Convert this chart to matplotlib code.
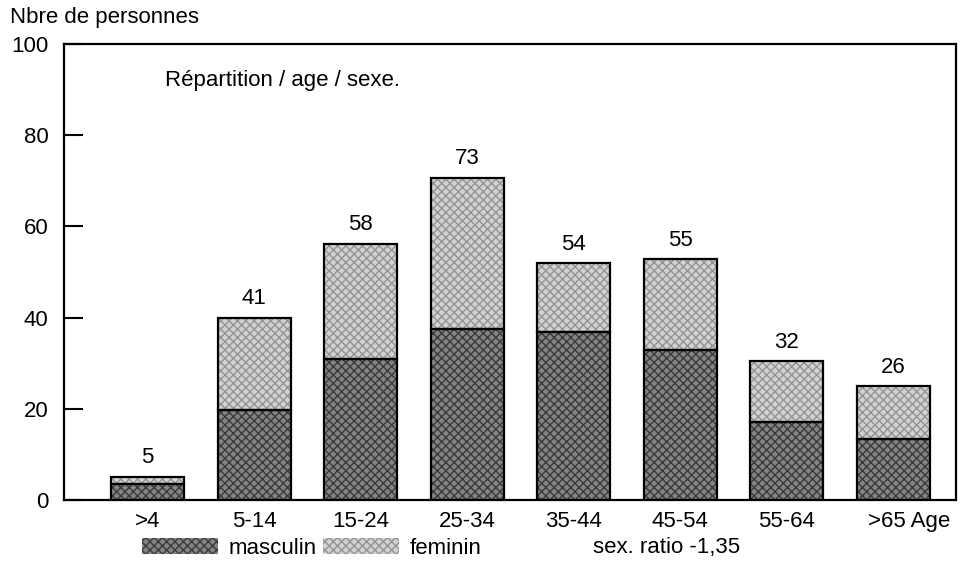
import matplotlib.pyplot as plt
import numpy as np
from matplotlib.patches import Rectangle
from matplotlib.transforms import ScaledTranslation

# age groups and counts (bar heights as drawn, labels as printed)
age_groups = ['>4', '5-14', '15-24', '25-34', '35-44', '45-54', '55-64', '>65 Age']
masculin = [3.5, 19.8, 31.0, 37.6, 36.8, 32.8, 17.2, 13.4]
total = [5.1, 40.0, 56.2, 70.7, 52.0, 52.8, 30.4, 24.9]
total_labels = ['5', '41', '58', '73', '54', '55', '32', '26']
feminin = [t - m for t, m in zip(total, masculin)]

plt.rcParams['font.family'] = ['Liberation Sans', 'DejaVu Sans']
plt.rcParams['font.size'] = 16
plt.rcParams['hatch.linewidth'] = 1.0

fig = plt.figure(figsize=(9.64, 5.62), dpi=100)
ax = fig.add_axes([0.0664, 0.1103, 0.9253, 0.8114])

x = np.arange(len(age_groups))
w = 0.685
masc_style = dict(facecolor='#848484', hatch='xxxx', edgecolor='#3a3a3a', linewidth=0)
fem_style = dict(facecolor='#d2d2d2', hatch='xxxx', edgecolor='#949494', linewidth=0)

ax.bar(x, masculin, w, **masc_style)
ax.bar(x, feminin, w, bottom=masculin, **fem_style)
# outlines
ax.bar(x, masculin, w, facecolor='none', edgecolor='black', linewidth=1.6)
ax.bar(x, feminin, w, bottom=masculin, facecolor='none', edgecolor='black', linewidth=1.6)

for xi, t, lab in zip(x, total, total_labels):
    ax.annotate(lab, (xi, t), xytext=(0, 6), textcoords='offset points',
                ha='center', va='bottom')

ax.set_xlim(-0.784, 7.59)
ax.set_ylim(0, 100)
ax.set_yticks([0, 20, 40, 60, 80, 100])
ax.tick_params(axis='y', direction='in', length=14, width=1.5, pad=11)
ax.set_xticks(x)
ax.set_xticklabels(age_groups)
ax.tick_params(axis='x', length=0, pad=8)
last = ax.get_xticklabels()[-1]
last.set_transform(last.get_transform() + ScaledTranslation(16 / 100, 0, fig.dpi_scale_trans))
for s in ax.spines.values():
    s.set_linewidth(1.6)

ax.text((165 - 64) / 892, 1 - 36 / 456, 'Répartition / age / sexe.', transform=ax.transAxes,
        ha='left', va='center')
fig.text(10 / 964, 1 - 17 / 562, 'Nbre de personnes', ha='left', va='center')
fig.text(593 / 964, 1 - 548 / 562, 'sex. ratio -1,35', ha='left', va='center')

handles = [Rectangle((0, 0), 1, 1, **masc_style), Rectangle((0, 0), 1, 1, **fem_style)]
fig.legend(handles, ['masculin', 'feminin'], loc='center left',
           bbox_to_anchor=(142 / 964, 1 - 548 / 562), ncol=2, frameon=False,
           handlelength=3.4, handleheight=0.7, handletextpad=0.5,
           columnspacing=0.3, borderpad=0, borderaxespad=0)

fig.savefig('out.png', dpi=100)
